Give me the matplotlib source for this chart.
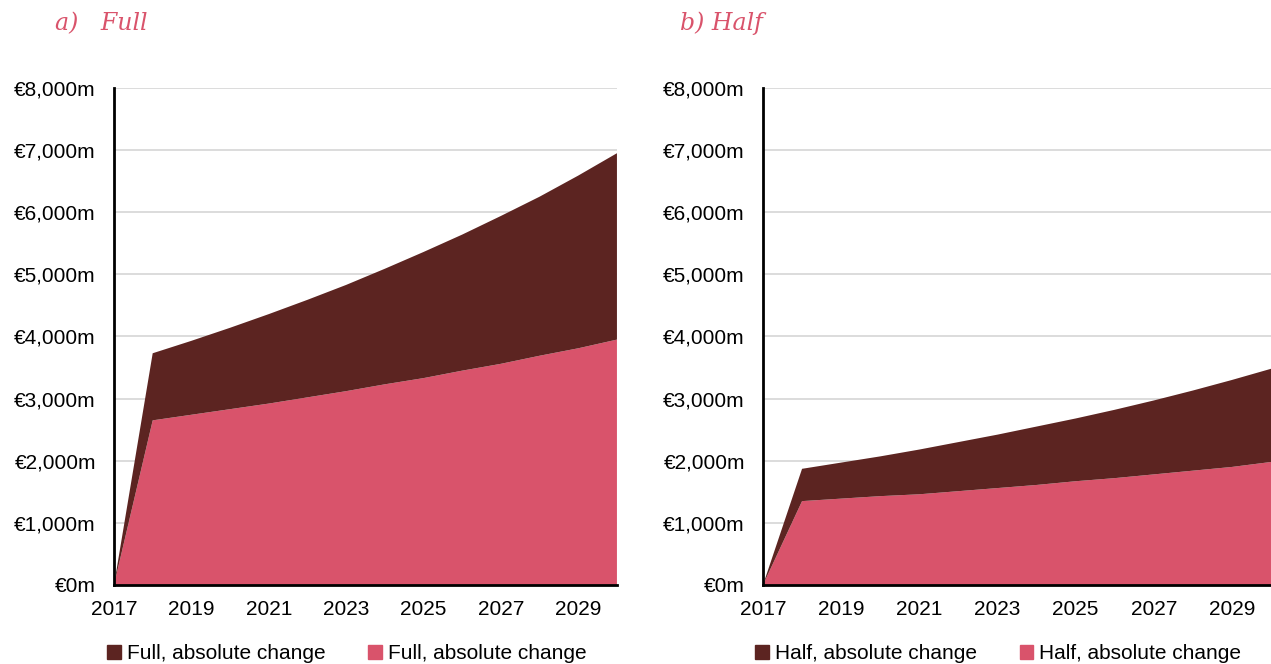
import matplotlib.pyplot as plt
from matplotlib.patches import Patch
from matplotlib.ticker import FuncFormatter

plt.rcParams['font.family'] = ['Liberation Sans', 'DejaVu Sans']

years = list(range(2017, 2031))

# Full scenario (stacked: pink bottom, dark top)
full_base = [0, 2650, 2740, 2830, 2920, 3020, 3120, 3230, 3330, 3450, 3560, 3690, 3810, 3950]
full_extra = [0, 1080, 1190, 1310, 1440, 1570, 1710, 1860, 2030, 2190, 2380, 2560, 2780, 3000]

# Half scenario
half_base = [0, 1350, 1390, 1430, 1460, 1510, 1560, 1610, 1670, 1720, 1780, 1840, 1900, 1980]
half_extra = [0, 520, 580, 640, 720, 790, 860, 940, 1010, 1100, 1190, 1290, 1400, 1500]

x_ticks = list(range(2017, 2030, 2))
y_ticks = list(range(0, 8001, 1000))

dark = '#5C2421'
pink = '#D9536B'

fig = plt.figure(figsize=(12.71, 6.64), dpi=100)
ax1 = fig.add_axes([0.0897, 0.119, 0.3957, 0.7485])
ax2 = fig.add_axes([0.6003, 0.119, 0.3997, 0.7485])

fmt = FuncFormatter(lambda v, p: '€{:,.0f}m'.format(v))

panels = [
    (ax1, full_base, full_extra, 'Full'),
    (ax2, half_base, half_extra, 'Half'),
]
for ax, base, extra, name in panels:
    ax.stackplot(years, base, extra, colors=[pink, dark], linewidth=0)
    ax.set_xlim(2017, 2030)
    ax.set_ylim(0, 8000)
    ax.set_xticks(x_ticks)
    ax.set_yticks(y_ticks)
    ax.yaxis.set_major_formatter(fmt)
    ax.tick_params(length=0, labelsize=15)
    ax.tick_params(axis='x', pad=11)
    ax.tick_params(axis='y', pad=13)
    ax.grid(axis='y', color='#D9D9D9', linewidth=1.3)
    ax.set_axisbelow(True)
    for s in ['top', 'right']:
        ax.spines[s].set_visible(False)
    for s in ['left', 'bottom']:
        ax.spines[s].set_linewidth(2)
        ax.spines[s].set_color('black')
    handles = [Patch(color=dark), Patch(color=pink)]
    labels = [name + ', absolute change', name + ', absolute change']
    ax.legend(handles, labels, loc='upper center', bbox_to_anchor=(0.463, -0.082),
              ncol=2, frameon=False, fontsize=15, handlelength=0.65,
              handleheight=0.65, handletextpad=0.3, columnspacing=2.05)

fig.text(0.043, 0.965, 'a)   Full', color=pink, fontsize=17, style='italic',
         family='DejaVu Serif', va='center')
fig.text(0.535, 0.965, 'b) Half', color=pink, fontsize=17, style='italic',
         family='DejaVu Serif', va='center')

fig.savefig('out.png', dpi=100)
